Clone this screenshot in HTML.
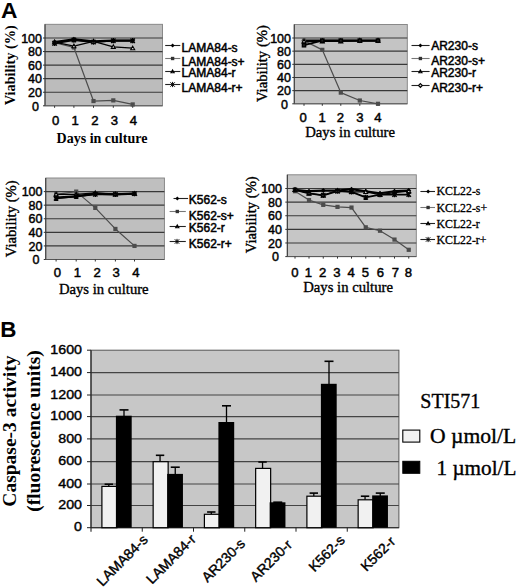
<!DOCTYPE html>
<html><head><meta charset="utf-8"><title>Figure</title>
<style>
html,body{margin:0;padding:0;background:#fff;width:520px;height:588px;overflow:hidden}
svg{display:block}
.sans{font-family:"Liberation Sans",sans-serif}
.sansb{font-family:"Liberation Sans",sans-serif;font-weight:bold}
.serif{font-family:"Liberation Serif",serif}
.serifb{font-family:"Liberation Serif",serif;font-weight:bold}
</style>
</head><body>
<svg width="520" height="588" viewBox="0 0 520 588">
<rect width="520" height="588" fill="#fff"/>
<text class="sansb" transform="translate(0.9 17.6)" font-size="22.8">A</text>
<text class="sansb" transform="translate(0.2 336.9)" font-size="22.4">B</text>
<rect x="45" y="24.3" width="117.5" height="81.5" fill="#bcbcbc" stroke="#808080" stroke-width="0.9"/>
<line x1="45" y1="92.24" x2="162.5" y2="92.24" stroke="#383838" stroke-width="1.2"/>
<line x1="45" y1="78.68" x2="162.5" y2="78.68" stroke="#383838" stroke-width="1.2"/>
<line x1="45" y1="65.12" x2="162.5" y2="65.12" stroke="#383838" stroke-width="1.2"/>
<line x1="45" y1="51.56" x2="162.5" y2="51.56" stroke="#383838" stroke-width="1.2"/>
<line x1="45" y1="38" x2="162.5" y2="38" stroke="#383838" stroke-width="1.2"/>
<line x1="45" y1="24.3" x2="45" y2="105.8" stroke="#333" stroke-width="1"/>
<line x1="45" y1="105.8" x2="162.5" y2="105.8" stroke="#555" stroke-width="1"/>
<line x1="43" y1="105.8" x2="45" y2="105.8" stroke="#333" stroke-width="1"/>
<line x1="43" y1="92.24" x2="45" y2="92.24" stroke="#333" stroke-width="1"/>
<line x1="43" y1="78.68" x2="45" y2="78.68" stroke="#333" stroke-width="1"/>
<line x1="43" y1="65.12" x2="45" y2="65.12" stroke="#333" stroke-width="1"/>
<line x1="43" y1="51.56" x2="45" y2="51.56" stroke="#333" stroke-width="1"/>
<line x1="43" y1="38" x2="45" y2="38" stroke="#333" stroke-width="1"/>
<line x1="54.6" y1="105.8" x2="54.6" y2="107.8" stroke="#333" stroke-width="1"/>
<line x1="73.9" y1="105.8" x2="73.9" y2="107.8" stroke="#333" stroke-width="1"/>
<line x1="93.5" y1="105.8" x2="93.5" y2="107.8" stroke="#333" stroke-width="1"/>
<line x1="113.3" y1="105.8" x2="113.3" y2="107.8" stroke="#333" stroke-width="1"/>
<line x1="132.7" y1="105.8" x2="132.7" y2="107.8" stroke="#333" stroke-width="1"/>
<text class="sans" transform="translate(39 110.5)" font-size="12.5" text-anchor="end" stroke="#000" stroke-width="0.45">0</text>
<text class="sans" transform="translate(42 96.94)" font-size="12.5" text-anchor="end" stroke="#000" stroke-width="0.45">20</text>
<text class="sans" transform="translate(42 83.38)" font-size="12.5" text-anchor="end" stroke="#000" stroke-width="0.45">40</text>
<text class="sans" transform="translate(42 69.82)" font-size="12.5" text-anchor="end" stroke="#000" stroke-width="0.45">60</text>
<text class="sans" transform="translate(42 56.26)" font-size="12.5" text-anchor="end" stroke="#000" stroke-width="0.45">80</text>
<text class="sans" transform="translate(42 42.7)" font-size="12.5" text-anchor="end" stroke="#000" stroke-width="0.45">100</text>
<text class="sans" transform="translate(55.7 124.9) scale(1.05 1)" font-size="12.5" text-anchor="middle" stroke="#000" stroke-width="0.45">0</text>
<text class="sans" transform="translate(75.1 124.9) scale(1.05 1)" font-size="12.5" text-anchor="middle" stroke="#000" stroke-width="0.45">1</text>
<text class="sans" transform="translate(94.9 124.9) scale(1.05 1)" font-size="12.5" text-anchor="middle" stroke="#000" stroke-width="0.45">2</text>
<text class="sans" transform="translate(114.3 124.9) scale(1.05 1)" font-size="12.5" text-anchor="middle" stroke="#000" stroke-width="0.45">3</text>
<text class="sans" transform="translate(133.5 124.9) scale(1.05 1)" font-size="12.5" text-anchor="middle" stroke="#000" stroke-width="0.45">4</text>
<text class="serifb" transform="translate(56.6 143.4)" font-size="14">Days in culture</text>
<text class="serifb" transform="translate(15.3 65.2) rotate(-90)" font-size="14.3" text-anchor="middle">Viability (%)</text>
<path d="M54.6 42.07L73.9 39.36L93.5 41.39L113.3 40.71L132.7 40.71" fill="none" stroke="#000" stroke-width="2.2" stroke-linejoin="round"/>
<path d="M54.6 42.75L73.9 47.49L93.5 101.05L113.3 100.38L132.7 104.44" fill="none" stroke="#4c4c4c" stroke-width="1.2" stroke-linejoin="round"/>
<path d="M54.6 42.07L73.9 46.14L93.5 41.39L113.3 46.81L132.7 48.17" fill="none" stroke="#000" stroke-width="1.2" stroke-linejoin="round"/>
<path d="M54.6 43.42L73.9 40.03L93.5 42.07L113.3 40.71L132.7 40.71" fill="none" stroke="#000" stroke-width="1.8" stroke-linejoin="round"/>
<path d="M54.6 39.57L57.1 42.07L54.6 44.57L52.1 42.07Z" fill="#000"/>
<path d="M73.9 36.86L76.4 39.36L73.9 41.86L71.4 39.36Z" fill="#000"/>
<path d="M93.5 38.89L96 41.39L93.5 43.89L91 41.39Z" fill="#000"/>
<path d="M113.3 38.21L115.8 40.71L113.3 43.21L110.8 40.71Z" fill="#000"/>
<path d="M132.7 38.21L135.2 40.71L132.7 43.21L130.2 40.71Z" fill="#000"/>
<rect x="52.5" y="40.65" width="4.2" height="4.2" fill="#4c4c4c"/>
<rect x="71.8" y="45.39" width="4.2" height="4.2" fill="#4c4c4c"/>
<rect x="91.4" y="98.95" width="4.2" height="4.2" fill="#4c4c4c"/>
<rect x="111.2" y="98.28" width="4.2" height="4.2" fill="#4c4c4c"/>
<rect x="130.6" y="102.34" width="4.2" height="4.2" fill="#4c4c4c"/>
<path d="M54.6 40.07L56.6 43.67L52.6 43.67Z" fill="#d8d8d8" stroke="#000" stroke-width="1.1"/>
<path d="M73.9 44.14L75.9 47.74L71.9 47.74Z" fill="#d8d8d8" stroke="#000" stroke-width="1.1"/>
<path d="M93.5 39.39L95.5 42.99L91.5 42.99Z" fill="#d8d8d8" stroke="#000" stroke-width="1.1"/>
<path d="M113.3 44.81L115.3 48.41L111.3 48.41Z" fill="#d8d8d8" stroke="#000" stroke-width="1.1"/>
<path d="M132.7 46.17L134.7 49.77L130.7 49.77Z" fill="#d8d8d8" stroke="#000" stroke-width="1.1"/>
<path d="M52.4 41.22L56.8 45.62M52.4 45.62L56.8 41.22M54.6 40.78L54.6 46.06" stroke="#000" stroke-width="1.4" fill="none"/>
<path d="M71.7 37.83L76.1 42.23M71.7 42.23L76.1 37.83M73.9 37.39L73.9 42.67" stroke="#000" stroke-width="1.4" fill="none"/>
<path d="M91.3 39.87L95.7 44.27M91.3 44.27L95.7 39.87M93.5 39.43L93.5 44.71" stroke="#000" stroke-width="1.4" fill="none"/>
<path d="M111.1 38.51L115.5 42.91M111.1 42.91L115.5 38.51M113.3 38.07L113.3 43.35" stroke="#000" stroke-width="1.4" fill="none"/>
<path d="M130.5 38.51L134.9 42.91M130.5 42.91L134.9 38.51M132.7 38.07L132.7 43.35" stroke="#000" stroke-width="1.4" fill="none"/>
<line x1="165.2" y1="45.5" x2="180.3" y2="45.5" stroke="#222" stroke-width="1.1"/>
<path d="M172.6 43.5L174.6 45.5L172.6 47.5L170.6 45.5Z" fill="#000"/>
<text class="sans" transform="translate(181.6 52.3)" font-size="12" stroke="#000" stroke-width="0.5">LAMA84-s</text>
<line x1="165.2" y1="58.5" x2="180.3" y2="58.5" stroke="#777" stroke-width="1.1"/>
<rect x="170.92" y="56.82" width="3.36" height="3.36" fill="#333"/>
<text class="sans" transform="translate(181.6 66.1)" font-size="12" stroke="#000" stroke-width="0.5">LAMA84-s+</text>
<line x1="165.2" y1="71.5" x2="180.3" y2="71.5" stroke="#222" stroke-width="1.1"/>
<path d="M172.6 69.9L174.2 72.78L171 72.78Z" fill="#d8d8d8" stroke="#000" stroke-width="1.1"/>
<text class="sans" transform="translate(181.6 77.4)" font-size="12" stroke="#000" stroke-width="0.5">LAMA84-r</text>
<line x1="165.2" y1="84.5" x2="180.3" y2="84.5" stroke="#222" stroke-width="1.1"/>
<path d="M170.42 82.32L174.78 86.68M170.42 86.68L174.78 82.32M172.6 81.89L172.6 87.11" stroke="#000" stroke-width="1.0" fill="none"/>
<text class="sans" transform="translate(181.6 92.1)" font-size="12" stroke="#000" stroke-width="0.5">LAMA84-r+</text>
<rect x="294.25" y="24.5" width="113.05" height="79.3" fill="#c4c4c4" stroke="#808080" stroke-width="0.9"/>
<line x1="294.25" y1="90.64" x2="407.3" y2="90.64" stroke="#383838" stroke-width="1.2"/>
<line x1="294.25" y1="77.48" x2="407.3" y2="77.48" stroke="#383838" stroke-width="1.2"/>
<line x1="294.25" y1="64.32" x2="407.3" y2="64.32" stroke="#383838" stroke-width="1.2"/>
<line x1="294.25" y1="51.16" x2="407.3" y2="51.16" stroke="#383838" stroke-width="1.2"/>
<line x1="294.25" y1="38" x2="407.3" y2="38" stroke="#383838" stroke-width="1.2"/>
<line x1="294.25" y1="24.5" x2="294.25" y2="103.8" stroke="#333" stroke-width="1"/>
<line x1="294.25" y1="103.8" x2="407.3" y2="103.8" stroke="#555" stroke-width="1"/>
<line x1="292.25" y1="103.8" x2="294.25" y2="103.8" stroke="#333" stroke-width="1"/>
<line x1="292.25" y1="90.64" x2="294.25" y2="90.64" stroke="#333" stroke-width="1"/>
<line x1="292.25" y1="77.48" x2="294.25" y2="77.48" stroke="#333" stroke-width="1"/>
<line x1="292.25" y1="64.32" x2="294.25" y2="64.32" stroke="#333" stroke-width="1"/>
<line x1="292.25" y1="51.16" x2="294.25" y2="51.16" stroke="#333" stroke-width="1"/>
<line x1="292.25" y1="38" x2="294.25" y2="38" stroke="#333" stroke-width="1"/>
<line x1="304" y1="103.8" x2="304" y2="105.8" stroke="#333" stroke-width="1"/>
<line x1="322.3" y1="103.8" x2="322.3" y2="105.8" stroke="#333" stroke-width="1"/>
<line x1="340.8" y1="103.8" x2="340.8" y2="105.8" stroke="#333" stroke-width="1"/>
<line x1="359.8" y1="103.8" x2="359.8" y2="105.8" stroke="#333" stroke-width="1"/>
<line x1="378" y1="103.8" x2="378" y2="105.8" stroke="#333" stroke-width="1"/>
<text class="sans" transform="translate(288 108.5)" font-size="12.5" text-anchor="end" stroke="#000" stroke-width="0.45">0</text>
<text class="sans" transform="translate(291 95.34)" font-size="12.5" text-anchor="end" stroke="#000" stroke-width="0.45">20</text>
<text class="sans" transform="translate(291 82.18)" font-size="12.5" text-anchor="end" stroke="#000" stroke-width="0.45">40</text>
<text class="sans" transform="translate(291 69.02)" font-size="12.5" text-anchor="end" stroke="#000" stroke-width="0.45">60</text>
<text class="sans" transform="translate(291 55.86)" font-size="12.5" text-anchor="end" stroke="#000" stroke-width="0.45">80</text>
<text class="sans" transform="translate(291 42.7)" font-size="12.5" text-anchor="end" stroke="#000" stroke-width="0.45">100</text>
<text class="sans" transform="translate(303.1 121.9) scale(1.05 1)" font-size="12.5" text-anchor="middle" stroke="#000" stroke-width="0.45">0</text>
<text class="sans" transform="translate(322.2 121.9) scale(1.05 1)" font-size="12.5" text-anchor="middle" stroke="#000" stroke-width="0.45">1</text>
<text class="sans" transform="translate(340.3 121.9) scale(1.05 1)" font-size="12.5" text-anchor="middle" stroke="#000" stroke-width="0.45">2</text>
<text class="sans" transform="translate(359.8 121.9) scale(1.05 1)" font-size="12.5" text-anchor="middle" stroke="#000" stroke-width="0.45">3</text>
<text class="sans" transform="translate(377.8 121.9) scale(1.05 1)" font-size="12.5" text-anchor="middle" stroke="#000" stroke-width="0.45">4</text>
<text class="serif" transform="translate(305.2 136.7)" font-size="14.7" stroke="#000" stroke-width="0.35">Days in culture</text>
<text class="serif" transform="translate(266.8 63.6) rotate(-90)" font-size="14.7" text-anchor="middle" stroke="#000" stroke-width="0.35">Viability (%)</text>
<path d="M304 40.63L322.3 40.63L340.8 40.63L359.8 40.63L378 40.63" fill="none" stroke="#000" stroke-width="2.2" stroke-linejoin="round"/>
<path d="M304 40.63L322.3 49.84L340.8 92.61L359.8 100.51L378 103.8" fill="none" stroke="#4c4c4c" stroke-width="1.2" stroke-linejoin="round"/>
<path d="M304 41.29L322.3 41.29L340.8 41.29L359.8 40.63L378 40.63" fill="none" stroke="#000" stroke-width="1.2" stroke-linejoin="round"/>
<path d="M304 45.24L322.3 40.63L340.8 40.63L359.8 40.63L378 40.63" fill="none" stroke="#000" stroke-width="1.8" stroke-linejoin="round"/>
<path d="M304 38.13L306.5 40.63L304 43.13L301.5 40.63Z" fill="#000"/>
<path d="M322.3 38.13L324.8 40.63L322.3 43.13L319.8 40.63Z" fill="#000"/>
<path d="M340.8 38.13L343.3 40.63L340.8 43.13L338.3 40.63Z" fill="#000"/>
<path d="M359.8 38.13L362.3 40.63L359.8 43.13L357.3 40.63Z" fill="#000"/>
<path d="M378 38.13L380.5 40.63L378 43.13L375.5 40.63Z" fill="#000"/>
<rect x="301.9" y="38.53" width="4.2" height="4.2" fill="#4c4c4c"/>
<rect x="320.2" y="47.74" width="4.2" height="4.2" fill="#4c4c4c"/>
<rect x="338.7" y="90.51" width="4.2" height="4.2" fill="#4c4c4c"/>
<rect x="357.7" y="98.41" width="4.2" height="4.2" fill="#4c4c4c"/>
<rect x="375.9" y="101.7" width="4.2" height="4.2" fill="#4c4c4c"/>
<path d="M304 39.29L306 42.89L302 42.89Z" fill="#d8d8d8" stroke="#000" stroke-width="1.1"/>
<path d="M322.3 39.29L324.3 42.89L320.3 42.89Z" fill="#d8d8d8" stroke="#000" stroke-width="1.1"/>
<path d="M340.8 39.29L342.8 42.89L338.8 42.89Z" fill="#d8d8d8" stroke="#000" stroke-width="1.1"/>
<path d="M359.8 38.63L361.8 42.23L357.8 42.23Z" fill="#d8d8d8" stroke="#000" stroke-width="1.1"/>
<path d="M378 38.63L380 42.23L376 42.23Z" fill="#d8d8d8" stroke="#000" stroke-width="1.1"/>
<rect x="302.4" y="43.64" width="3.2" height="3.2" fill="#202020" stroke="#000" stroke-width="1.4"/>
<rect x="320.7" y="39.03" width="3.2" height="3.2" fill="#202020" stroke="#000" stroke-width="1.4"/>
<rect x="339.2" y="39.03" width="3.2" height="3.2" fill="#202020" stroke="#000" stroke-width="1.4"/>
<rect x="358.2" y="39.03" width="3.2" height="3.2" fill="#202020" stroke="#000" stroke-width="1.4"/>
<rect x="376.4" y="39.03" width="3.2" height="3.2" fill="#202020" stroke="#000" stroke-width="1.4"/>
<line x1="411.5" y1="45.5" x2="429.6" y2="45.5" stroke="#222" stroke-width="1.1"/>
<path d="M420.4 43.5L422.4 45.5L420.4 47.5L418.4 45.5Z" fill="#000"/>
<text class="sans" transform="translate(431.2 50.4)" font-size="12" stroke="#000" stroke-width="0.5">AR230-s</text>
<line x1="411.5" y1="58.5" x2="429.6" y2="58.5" stroke="#777" stroke-width="1.1"/>
<rect x="418.72" y="56.82" width="3.36" height="3.36" fill="#333"/>
<text class="sans" transform="translate(431.2 65)" font-size="12" stroke="#000" stroke-width="0.5">AR230-s+</text>
<line x1="411.5" y1="71.5" x2="429.6" y2="71.5" stroke="#222" stroke-width="1.1"/>
<path d="M420.4 69.9L422 72.78L418.8 72.78Z" fill="#d8d8d8" stroke="#000" stroke-width="1.1"/>
<text class="sans" transform="translate(431.2 77.3)" font-size="12" stroke="#000" stroke-width="0.5">AR230-r</text>
<line x1="411.5" y1="85.5" x2="429.6" y2="85.5" stroke="#222" stroke-width="1.1"/>
<path d="M420.4 83.58L422.32 85.5L420.4 87.42L418.48 85.5Z" fill="#d8d8d8" stroke="#000" stroke-width="1.1"/>
<text class="sans" transform="translate(431.2 91.9)" font-size="12" stroke="#000" stroke-width="0.5">AR230-r+</text>
<rect x="45.75" y="178" width="118.65" height="81.5" fill="#bfbfbf" stroke="#808080" stroke-width="0.9"/>
<line x1="45.75" y1="245.92" x2="164.4" y2="245.92" stroke="#383838" stroke-width="1.2"/>
<line x1="45.75" y1="232.34" x2="164.4" y2="232.34" stroke="#383838" stroke-width="1.2"/>
<line x1="45.75" y1="218.76" x2="164.4" y2="218.76" stroke="#383838" stroke-width="1.2"/>
<line x1="45.75" y1="205.18" x2="164.4" y2="205.18" stroke="#383838" stroke-width="1.2"/>
<line x1="45.75" y1="191.6" x2="164.4" y2="191.6" stroke="#383838" stroke-width="1.2"/>
<line x1="45.75" y1="178" x2="45.75" y2="259.5" stroke="#333" stroke-width="1"/>
<line x1="45.75" y1="259.5" x2="164.4" y2="259.5" stroke="#555" stroke-width="1"/>
<line x1="43.75" y1="259.5" x2="45.75" y2="259.5" stroke="#333" stroke-width="1"/>
<line x1="43.75" y1="245.92" x2="45.75" y2="245.92" stroke="#333" stroke-width="1"/>
<line x1="43.75" y1="232.34" x2="45.75" y2="232.34" stroke="#333" stroke-width="1"/>
<line x1="43.75" y1="218.76" x2="45.75" y2="218.76" stroke="#333" stroke-width="1"/>
<line x1="43.75" y1="205.18" x2="45.75" y2="205.18" stroke="#333" stroke-width="1"/>
<line x1="43.75" y1="191.6" x2="45.75" y2="191.6" stroke="#333" stroke-width="1"/>
<line x1="56.1" y1="259.5" x2="56.1" y2="261.5" stroke="#333" stroke-width="1"/>
<line x1="76.2" y1="259.5" x2="76.2" y2="261.5" stroke="#333" stroke-width="1"/>
<line x1="95.3" y1="259.5" x2="95.3" y2="261.5" stroke="#333" stroke-width="1"/>
<line x1="115.4" y1="259.5" x2="115.4" y2="261.5" stroke="#333" stroke-width="1"/>
<line x1="134.5" y1="259.5" x2="134.5" y2="261.5" stroke="#333" stroke-width="1"/>
<text class="sans" transform="translate(39.5 264.2)" font-size="12.5" text-anchor="end" stroke="#000" stroke-width="0.45">0</text>
<text class="sans" transform="translate(42.5 250.62)" font-size="12.5" text-anchor="end" stroke="#000" stroke-width="0.45">20</text>
<text class="sans" transform="translate(42.5 237.04)" font-size="12.5" text-anchor="end" stroke="#000" stroke-width="0.45">40</text>
<text class="sans" transform="translate(42.5 223.46)" font-size="12.5" text-anchor="end" stroke="#000" stroke-width="0.45">60</text>
<text class="sans" transform="translate(42.5 209.88)" font-size="12.5" text-anchor="end" stroke="#000" stroke-width="0.45">80</text>
<text class="sans" transform="translate(42.5 196.3)" font-size="12.5" text-anchor="end" stroke="#000" stroke-width="0.45">100</text>
<text class="sans" transform="translate(57.3 276.9) scale(1.05 1)" font-size="12.5" text-anchor="middle" stroke="#000" stroke-width="0.45">0</text>
<text class="sans" transform="translate(77.4 276.9) scale(1.05 1)" font-size="12.5" text-anchor="middle" stroke="#000" stroke-width="0.45">1</text>
<text class="sans" transform="translate(97.2 276.9) scale(1.05 1)" font-size="12.5" text-anchor="middle" stroke="#000" stroke-width="0.45">2</text>
<text class="sans" transform="translate(116.2 276.9) scale(1.05 1)" font-size="12.5" text-anchor="middle" stroke="#000" stroke-width="0.45">3</text>
<text class="sans" transform="translate(135.8 276.9) scale(1.05 1)" font-size="12.5" text-anchor="middle" stroke="#000" stroke-width="0.45">4</text>
<text class="serif" transform="translate(58.9 293.8)" font-size="14.7" stroke="#000" stroke-width="0.35">Days in culture</text>
<text class="serif" transform="translate(16.1 218.8) rotate(-90)" font-size="14.7" text-anchor="middle" stroke="#000" stroke-width="0.35">Viability (%)</text>
<path d="M56.1 197.71L76.2 196.35L95.3 193.64L115.4 194.32L134.5 193.64" fill="none" stroke="#000" stroke-width="2.2" stroke-linejoin="round"/>
<path d="M56.1 194.32L76.2 191.6L95.3 207.9L115.4 228.94L134.5 245.92" fill="none" stroke="#4c4c4c" stroke-width="1.2" stroke-linejoin="round"/>
<path d="M56.1 194.32L76.2 194.32L95.3 192.96L115.4 194.32L134.5 193.64" fill="none" stroke="#000" stroke-width="1.2" stroke-linejoin="round"/>
<path d="M56.1 198.39L76.2 196.35L95.3 194.32L115.4 194.32L134.5 193.64" fill="none" stroke="#000" stroke-width="1.8" stroke-linejoin="round"/>
<path d="M56.1 195.21L58.6 197.71L56.1 200.21L53.6 197.71Z" fill="#000"/>
<path d="M76.2 193.85L78.7 196.35L76.2 198.85L73.7 196.35Z" fill="#000"/>
<path d="M95.3 191.14L97.8 193.64L95.3 196.14L92.8 193.64Z" fill="#000"/>
<path d="M115.4 191.82L117.9 194.32L115.4 196.82L112.9 194.32Z" fill="#000"/>
<path d="M134.5 191.14L137 193.64L134.5 196.14L132 193.64Z" fill="#000"/>
<rect x="54" y="192.22" width="4.2" height="4.2" fill="#4c4c4c"/>
<rect x="74.1" y="189.5" width="4.2" height="4.2" fill="#4c4c4c"/>
<rect x="93.2" y="205.8" width="4.2" height="4.2" fill="#4c4c4c"/>
<rect x="113.3" y="226.84" width="4.2" height="4.2" fill="#4c4c4c"/>
<rect x="132.4" y="243.82" width="4.2" height="4.2" fill="#4c4c4c"/>
<path d="M56.1 192.32L58.1 195.92L54.1 195.92Z" fill="#d8d8d8" stroke="#000" stroke-width="1.1"/>
<path d="M76.2 192.32L78.2 195.92L74.2 195.92Z" fill="#d8d8d8" stroke="#000" stroke-width="1.1"/>
<path d="M95.3 190.96L97.3 194.56L93.3 194.56Z" fill="#d8d8d8" stroke="#000" stroke-width="1.1"/>
<path d="M115.4 192.32L117.4 195.92L113.4 195.92Z" fill="#d8d8d8" stroke="#000" stroke-width="1.1"/>
<path d="M134.5 191.64L136.5 195.24L132.5 195.24Z" fill="#d8d8d8" stroke="#000" stroke-width="1.1"/>
<path d="M53.9 196.19L58.3 200.59M53.9 200.59L58.3 196.19M56.1 195.75L56.1 201.03" stroke="#000" stroke-width="1.4" fill="none"/>
<path d="M74 194.15L78.4 198.55M74 198.55L78.4 194.15M76.2 193.71L76.2 198.99" stroke="#000" stroke-width="1.4" fill="none"/>
<path d="M93.1 192.12L97.5 196.52M93.1 196.52L97.5 192.12M95.3 191.68L95.3 196.96" stroke="#000" stroke-width="1.4" fill="none"/>
<path d="M113.2 192.12L117.6 196.52M113.2 196.52L117.6 192.12M115.4 191.68L115.4 196.96" stroke="#000" stroke-width="1.4" fill="none"/>
<path d="M132.3 191.44L136.7 195.84M132.3 195.84L136.7 191.44M134.5 191L134.5 196.28" stroke="#000" stroke-width="1.4" fill="none"/>
<line x1="173.5" y1="198.5" x2="188.1" y2="198.5" stroke="#222" stroke-width="1.1"/>
<path d="M177.3 196.5L179.3 198.5L177.3 200.5L175.3 198.5Z" fill="#000"/>
<text class="sans" transform="translate(188.8 203.7)" font-size="12" stroke="#000" stroke-width="0.5">K562-s</text>
<line x1="169.6" y1="211.5" x2="185.8" y2="211.5" stroke="#777" stroke-width="1.1"/>
<rect x="175.62" y="209.82" width="3.36" height="3.36" fill="#333"/>
<text class="sans" transform="translate(188.8 219.5)" font-size="12" stroke="#000" stroke-width="0.5">K562-s+</text>
<line x1="169.6" y1="226.5" x2="185.8" y2="226.5" stroke="#222" stroke-width="1.1"/>
<path d="M177.3 224.9L178.9 227.78L175.7 227.78Z" fill="#d8d8d8" stroke="#000" stroke-width="1.1"/>
<text class="sans" transform="translate(188.8 231.8)" font-size="12" stroke="#000" stroke-width="0.5">K562-r</text>
<line x1="169.6" y1="241.5" x2="185.8" y2="241.5" stroke="#222" stroke-width="1.1"/>
<path d="M174.82 239.32L179.18 243.68M174.82 243.68L179.18 239.32M177 238.89L177 244.11" stroke="#000" stroke-width="1.0" fill="none"/>
<text class="sans" transform="translate(188.8 248)" font-size="12" stroke="#000" stroke-width="0.5">K562-r+</text>
<rect x="287.3" y="174.8" width="129" height="81.8" fill="#c6c6c6" stroke="#808080" stroke-width="0.9"/>
<line x1="287.3" y1="242.98" x2="416.3" y2="242.98" stroke="#383838" stroke-width="1.2"/>
<line x1="287.3" y1="229.36" x2="416.3" y2="229.36" stroke="#383838" stroke-width="1.2"/>
<line x1="287.3" y1="215.74" x2="416.3" y2="215.74" stroke="#383838" stroke-width="1.2"/>
<line x1="287.3" y1="202.12" x2="416.3" y2="202.12" stroke="#383838" stroke-width="1.2"/>
<line x1="287.3" y1="188.5" x2="416.3" y2="188.5" stroke="#383838" stroke-width="1.2"/>
<line x1="287.3" y1="174.8" x2="287.3" y2="256.6" stroke="#333" stroke-width="1"/>
<line x1="287.3" y1="256.6" x2="416.3" y2="256.6" stroke="#555" stroke-width="1"/>
<line x1="285.3" y1="256.6" x2="287.3" y2="256.6" stroke="#333" stroke-width="1"/>
<line x1="285.3" y1="242.98" x2="287.3" y2="242.98" stroke="#333" stroke-width="1"/>
<line x1="285.3" y1="229.36" x2="287.3" y2="229.36" stroke="#333" stroke-width="1"/>
<line x1="285.3" y1="215.74" x2="287.3" y2="215.74" stroke="#333" stroke-width="1"/>
<line x1="285.3" y1="202.12" x2="287.3" y2="202.12" stroke="#333" stroke-width="1"/>
<line x1="285.3" y1="188.5" x2="287.3" y2="188.5" stroke="#333" stroke-width="1"/>
<line x1="295" y1="256.6" x2="295" y2="258.6" stroke="#333" stroke-width="1"/>
<line x1="309" y1="256.6" x2="309" y2="258.6" stroke="#333" stroke-width="1"/>
<line x1="323.25" y1="256.6" x2="323.25" y2="258.6" stroke="#333" stroke-width="1"/>
<line x1="337.5" y1="256.6" x2="337.5" y2="258.6" stroke="#333" stroke-width="1"/>
<line x1="351.5" y1="256.6" x2="351.5" y2="258.6" stroke="#333" stroke-width="1"/>
<line x1="365.75" y1="256.6" x2="365.75" y2="258.6" stroke="#333" stroke-width="1"/>
<line x1="380" y1="256.6" x2="380" y2="258.6" stroke="#333" stroke-width="1"/>
<line x1="394.5" y1="256.6" x2="394.5" y2="258.6" stroke="#333" stroke-width="1"/>
<line x1="408.75" y1="256.6" x2="408.75" y2="258.6" stroke="#333" stroke-width="1"/>
<text class="sans" transform="translate(279 261.3)" font-size="12.5" text-anchor="end" stroke="#000" stroke-width="0.45">0</text>
<text class="sans" transform="translate(282 247.68)" font-size="12.5" text-anchor="end" stroke="#000" stroke-width="0.45">20</text>
<text class="sans" transform="translate(282 234.06)" font-size="12.5" text-anchor="end" stroke="#000" stroke-width="0.45">40</text>
<text class="sans" transform="translate(282 220.44)" font-size="12.5" text-anchor="end" stroke="#000" stroke-width="0.45">60</text>
<text class="sans" transform="translate(282 206.82)" font-size="12.5" text-anchor="end" stroke="#000" stroke-width="0.45">80</text>
<text class="sans" transform="translate(282 193.2)" font-size="12.5" text-anchor="end" stroke="#000" stroke-width="0.45">100</text>
<text class="sans" transform="translate(294.9 277.1) scale(1.05 1)" font-size="12.5" text-anchor="middle" stroke="#000" stroke-width="0.45">0</text>
<text class="sans" transform="translate(308.4 277.1) scale(1.05 1)" font-size="12.5" text-anchor="middle" stroke="#000" stroke-width="0.45">1</text>
<text class="sans" transform="translate(322.6 277.1) scale(1.05 1)" font-size="12.5" text-anchor="middle" stroke="#000" stroke-width="0.45">2</text>
<text class="sans" transform="translate(336.9 277.1) scale(1.05 1)" font-size="12.5" text-anchor="middle" stroke="#000" stroke-width="0.45">3</text>
<text class="sans" transform="translate(351.2 277.1) scale(1.05 1)" font-size="12.5" text-anchor="middle" stroke="#000" stroke-width="0.45">4</text>
<text class="sans" transform="translate(365.5 277.1) scale(1.05 1)" font-size="12.5" text-anchor="middle" stroke="#000" stroke-width="0.45">5</text>
<text class="sans" transform="translate(380.5 277.1) scale(1.05 1)" font-size="12.5" text-anchor="middle" stroke="#000" stroke-width="0.45">6</text>
<text class="sans" transform="translate(395.3 277.1) scale(1.05 1)" font-size="12.5" text-anchor="middle" stroke="#000" stroke-width="0.45">7</text>
<text class="sans" transform="translate(408.3 277.1) scale(1.05 1)" font-size="12.5" text-anchor="middle" stroke="#000" stroke-width="0.45">8</text>
<text class="serif" transform="translate(303.2 292.2)" font-size="14.7" stroke="#000" stroke-width="0.35">Days in culture</text>
<text class="serif" transform="translate(255.6 214.75) rotate(-90)" font-size="14.7" text-anchor="middle" stroke="#000" stroke-width="0.35">Viability (%)</text>
<path d="M295 189.86L309 191.22L323.25 190.54L337.5 190.54L351.5 189.18L365.75 191.22L380 193.27L394.5 191.22L408.75 190.54" fill="none" stroke="#000" stroke-width="2.2" stroke-linejoin="round"/>
<path d="M295 191.22L309 200.08L323.25 204.84L337.5 206.89L351.5 207.57L365.75 227.32L380 230.72L394.5 239.58L408.75 249.79" fill="none" stroke="#4c4c4c" stroke-width="1.2" stroke-linejoin="round"/>
<path d="M295 189.86L309 193.27L323.25 195.31L337.5 190.54L351.5 191.91L365.75 191.91L380 194.63L394.5 192.59L408.75 191.22" fill="none" stroke="#000" stroke-width="1.2" stroke-linejoin="round"/>
<path d="M295 189.86L309 193.27L323.25 195.31L337.5 191.22L351.5 191.91L365.75 197.35L380 194.63L394.5 194.63L408.75 194.63" fill="none" stroke="#000" stroke-width="1.8" stroke-linejoin="round"/>
<path d="M295 187.36L297.5 189.86L295 192.36L292.5 189.86Z" fill="#000"/>
<path d="M309 188.72L311.5 191.22L309 193.72L306.5 191.22Z" fill="#000"/>
<path d="M323.25 188.04L325.75 190.54L323.25 193.04L320.75 190.54Z" fill="#000"/>
<path d="M337.5 188.04L340 190.54L337.5 193.04L335 190.54Z" fill="#000"/>
<path d="M351.5 186.68L354 189.18L351.5 191.68L349 189.18Z" fill="#000"/>
<path d="M365.75 188.72L368.25 191.22L365.75 193.72L363.25 191.22Z" fill="#000"/>
<path d="M380 190.77L382.5 193.27L380 195.77L377.5 193.27Z" fill="#000"/>
<path d="M394.5 188.72L397 191.22L394.5 193.72L392 191.22Z" fill="#000"/>
<path d="M408.75 188.04L411.25 190.54L408.75 193.04L406.25 190.54Z" fill="#000"/>
<rect x="292.9" y="189.12" width="4.2" height="4.2" fill="#4c4c4c"/>
<rect x="306.9" y="197.98" width="4.2" height="4.2" fill="#4c4c4c"/>
<rect x="321.15" y="202.74" width="4.2" height="4.2" fill="#4c4c4c"/>
<rect x="335.4" y="204.79" width="4.2" height="4.2" fill="#4c4c4c"/>
<rect x="349.4" y="205.47" width="4.2" height="4.2" fill="#4c4c4c"/>
<rect x="363.65" y="225.22" width="4.2" height="4.2" fill="#4c4c4c"/>
<rect x="377.9" y="228.62" width="4.2" height="4.2" fill="#4c4c4c"/>
<rect x="392.4" y="237.48" width="4.2" height="4.2" fill="#4c4c4c"/>
<rect x="406.65" y="247.69" width="4.2" height="4.2" fill="#4c4c4c"/>
<path d="M295 187.86L297 191.46L293 191.46Z" fill="#d8d8d8" stroke="#000" stroke-width="1.1"/>
<path d="M309 191.27L311 194.87L307 194.87Z" fill="#d8d8d8" stroke="#000" stroke-width="1.1"/>
<path d="M323.25 193.31L325.25 196.91L321.25 196.91Z" fill="#d8d8d8" stroke="#000" stroke-width="1.1"/>
<path d="M337.5 188.54L339.5 192.14L335.5 192.14Z" fill="#d8d8d8" stroke="#000" stroke-width="1.1"/>
<path d="M351.5 189.91L353.5 193.51L349.5 193.51Z" fill="#d8d8d8" stroke="#000" stroke-width="1.1"/>
<path d="M365.75 189.91L367.75 193.51L363.75 193.51Z" fill="#d8d8d8" stroke="#000" stroke-width="1.1"/>
<path d="M380 192.63L382 196.23L378 196.23Z" fill="#d8d8d8" stroke="#000" stroke-width="1.1"/>
<path d="M394.5 190.59L396.5 194.19L392.5 194.19Z" fill="#d8d8d8" stroke="#000" stroke-width="1.1"/>
<path d="M408.75 189.22L410.75 192.82L406.75 192.82Z" fill="#d8d8d8" stroke="#000" stroke-width="1.1"/>
<path d="M292.8 187.66L297.2 192.06M292.8 192.06L297.2 187.66M295 187.22L295 192.5" stroke="#000" stroke-width="1.4" fill="none"/>
<path d="M306.8 191.07L311.2 195.47M306.8 195.47L311.2 191.07M309 190.63L309 195.91" stroke="#000" stroke-width="1.4" fill="none"/>
<path d="M321.05 193.11L325.45 197.51M321.05 197.51L325.45 193.11M323.25 192.67L323.25 197.95" stroke="#000" stroke-width="1.4" fill="none"/>
<path d="M335.3 189.02L339.7 193.42M335.3 193.42L339.7 189.02M337.5 188.58L337.5 193.86" stroke="#000" stroke-width="1.4" fill="none"/>
<path d="M349.3 189.71L353.7 194.11M349.3 194.11L353.7 189.71M351.5 189.27L351.5 194.55" stroke="#000" stroke-width="1.4" fill="none"/>
<path d="M363.55 195.15L367.95 199.55M363.55 199.55L367.95 195.15M365.75 194.71L365.75 199.99" stroke="#000" stroke-width="1.4" fill="none"/>
<path d="M377.8 192.43L382.2 196.83M377.8 196.83L382.2 192.43M380 191.99L380 197.27" stroke="#000" stroke-width="1.4" fill="none"/>
<path d="M392.3 192.43L396.7 196.83M392.3 196.83L396.7 192.43M394.5 191.99L394.5 197.27" stroke="#000" stroke-width="1.4" fill="none"/>
<path d="M406.55 192.43L410.95 196.83M406.55 196.83L410.95 192.43M408.75 191.99L408.75 197.27" stroke="#000" stroke-width="1.4" fill="none"/>
<line x1="420.4" y1="191.5" x2="435" y2="191.5" stroke="#222" stroke-width="1.1"/>
<path d="M428.1 189.5L430.1 191.5L428.1 193.5L426.1 191.5Z" fill="#000"/>
<text class="serif" transform="translate(436.5 195.3)" font-size="11.8" stroke="#000" stroke-width="0.3">KCL22-s</text>
<line x1="420.4" y1="207.5" x2="435" y2="207.5" stroke="#777" stroke-width="1.1"/>
<rect x="426.42" y="205.82" width="3.36" height="3.36" fill="#333"/>
<text class="serif" transform="translate(436.5 211.5)" font-size="11.8" stroke="#000" stroke-width="0.3">KCL22-s+</text>
<line x1="420.4" y1="223.5" x2="435" y2="223.5" stroke="#222" stroke-width="1.1"/>
<path d="M428.1 221.9L429.7 224.78L426.5 224.78Z" fill="#d8d8d8" stroke="#000" stroke-width="1.1"/>
<text class="serif" transform="translate(436.5 227.6)" font-size="11.8" stroke="#000" stroke-width="0.3">KCL22-r</text>
<line x1="420.4" y1="239.5" x2="435" y2="239.5" stroke="#222" stroke-width="1.1"/>
<path d="M425.92 237.32L430.28 241.68M425.92 241.68L430.28 237.32M428.1 236.89L428.1 242.11" stroke="#000" stroke-width="1.0" fill="none"/>
<text class="serif" transform="translate(436.5 243.8)" font-size="11.8" stroke="#000" stroke-width="0.3">KCL22-r+</text>
<rect x="91" y="350.2" width="307.9" height="177.5" fill="#c7c7c7" stroke="#555" stroke-width="1"/>
<line x1="91" y1="505.5" x2="398.9" y2="505.5" stroke="#444444" stroke-width="1.2"/>
<line x1="91" y1="484" x2="398.9" y2="484" stroke="#444444" stroke-width="1.2"/>
<line x1="91" y1="461.7" x2="398.9" y2="461.7" stroke="#444444" stroke-width="1.2"/>
<line x1="91" y1="438.9" x2="398.9" y2="438.9" stroke="#444444" stroke-width="1.2"/>
<line x1="91" y1="416.6" x2="398.9" y2="416.6" stroke="#444444" stroke-width="1.2"/>
<line x1="91" y1="395" x2="398.9" y2="395" stroke="#444444" stroke-width="1.2"/>
<line x1="91" y1="372.6" x2="398.9" y2="372.6" stroke="#444444" stroke-width="1.2"/>
<line x1="91" y1="350.2" x2="91" y2="531.7" stroke="#222" stroke-width="1.1"/>
<line x1="91" y1="527.7" x2="398.9" y2="527.7" stroke="#222" stroke-width="1.1"/>
<line x1="87" y1="527.7" x2="91" y2="527.7" stroke="#222" stroke-width="1"/>
<text class="sans" transform="translate(82 531.3) scale(1.14 1)" font-size="12.5" text-anchor="end" stroke="#000" stroke-width="0.4">0</text>
<line x1="87" y1="505.5" x2="91" y2="505.5" stroke="#222" stroke-width="1"/>
<text class="sans" transform="translate(82 509.1) scale(1.14 1)" font-size="12.5" text-anchor="end" stroke="#000" stroke-width="0.4">200</text>
<line x1="87" y1="484" x2="91" y2="484" stroke="#222" stroke-width="1"/>
<text class="sans" transform="translate(82 487.6) scale(1.14 1)" font-size="12.5" text-anchor="end" stroke="#000" stroke-width="0.4">400</text>
<line x1="87" y1="461.7" x2="91" y2="461.7" stroke="#222" stroke-width="1"/>
<text class="sans" transform="translate(82 465.3) scale(1.14 1)" font-size="12.5" text-anchor="end" stroke="#000" stroke-width="0.4">600</text>
<line x1="87" y1="438.9" x2="91" y2="438.9" stroke="#222" stroke-width="1"/>
<text class="sans" transform="translate(82 442.5) scale(1.14 1)" font-size="12.5" text-anchor="end" stroke="#000" stroke-width="0.4">800</text>
<line x1="87" y1="416.6" x2="91" y2="416.6" stroke="#222" stroke-width="1"/>
<text class="sans" transform="translate(82 420.2) scale(1.14 1)" font-size="12.5" text-anchor="end" stroke="#000" stroke-width="0.4">1000</text>
<line x1="87" y1="395" x2="91" y2="395" stroke="#222" stroke-width="1"/>
<text class="sans" transform="translate(82 398.6) scale(1.14 1)" font-size="12.5" text-anchor="end" stroke="#000" stroke-width="0.4">1200</text>
<line x1="87" y1="372.6" x2="91" y2="372.6" stroke="#222" stroke-width="1"/>
<text class="sans" transform="translate(82 376.2) scale(1.14 1)" font-size="12.5" text-anchor="end" stroke="#000" stroke-width="0.4">1400</text>
<line x1="87" y1="350.2" x2="91" y2="350.2" stroke="#222" stroke-width="1"/>
<text class="sans" transform="translate(82 353.8) scale(1.14 1)" font-size="12.5" text-anchor="end" stroke="#000" stroke-width="0.4">1600</text>
<line x1="108.8" y1="486.4" x2="108.8" y2="484.2" stroke="#000" stroke-width="1.3"/>
<line x1="104.6" y1="484.2" x2="113" y2="484.2" stroke="#000" stroke-width="1.6"/>
<rect x="101.9" y="486.4" width="15" height="41.3" fill="#f1f1f1" stroke="#000" stroke-width="1.2"/>
<line x1="124" y1="416.2" x2="124" y2="409.9" stroke="#000" stroke-width="1.3"/>
<line x1="119.5" y1="409.9" x2="128.5" y2="409.9" stroke="#000" stroke-width="1.6"/>
<rect x="115.9" y="415.7" width="15.8" height="112" fill="#000"/>
<text class="sans" transform="translate(102.38 586.88) rotate(-45)" font-size="14" stroke="#000" stroke-width="0.4">LAMA84-s</text>
<line x1="142.25" y1="527.7" x2="142.25" y2="531.7" stroke="#222" stroke-width="1"/>
<line x1="160.05" y1="461.7" x2="160.05" y2="455.3" stroke="#000" stroke-width="1.3"/>
<line x1="155.85" y1="455.3" x2="164.25" y2="455.3" stroke="#000" stroke-width="1.6"/>
<rect x="153.15" y="461.7" width="15" height="66" fill="#f1f1f1" stroke="#000" stroke-width="1.2"/>
<line x1="175.25" y1="474.4" x2="175.25" y2="467.2" stroke="#000" stroke-width="1.3"/>
<line x1="170.75" y1="467.2" x2="179.75" y2="467.2" stroke="#000" stroke-width="1.6"/>
<rect x="167.15" y="473.9" width="15.8" height="53.8" fill="#000"/>
<text class="sans" transform="translate(152.12 584.75) rotate(-45)" font-size="14" stroke="#000" stroke-width="0.4">LAMA84-r</text>
<line x1="193.5" y1="527.7" x2="193.5" y2="531.7" stroke="#222" stroke-width="1"/>
<line x1="211.3" y1="514.3" x2="211.3" y2="512" stroke="#000" stroke-width="1.3"/>
<line x1="207.1" y1="512" x2="215.5" y2="512" stroke="#000" stroke-width="1.6"/>
<rect x="204.4" y="514.3" width="15" height="13.4" fill="#f1f1f1" stroke="#000" stroke-width="1.2"/>
<line x1="226.5" y1="422.5" x2="226.5" y2="405.8" stroke="#000" stroke-width="1.3"/>
<line x1="222" y1="405.8" x2="231" y2="405.8" stroke="#000" stroke-width="1.6"/>
<rect x="218.4" y="422" width="15.8" height="105.7" fill="#000"/>
<text class="sans" transform="translate(207.55 583.08) rotate(-45)" font-size="14" stroke="#000" stroke-width="0.4">AR230-s</text>
<line x1="244.75" y1="527.7" x2="244.75" y2="531.7" stroke="#222" stroke-width="1"/>
<line x1="262.55" y1="468.4" x2="262.55" y2="462" stroke="#000" stroke-width="1.3"/>
<line x1="258.35" y1="462" x2="266.75" y2="462" stroke="#000" stroke-width="1.6"/>
<rect x="255.65" y="468.4" width="15" height="59.3" fill="#f1f1f1" stroke="#000" stroke-width="1.2"/>
<line x1="273.25" y1="502.2" x2="282.25" y2="502.2" stroke="#000" stroke-width="1.6"/>
<rect x="269.65" y="502.3" width="15.8" height="25.4" fill="#000"/>
<text class="sans" transform="translate(256.08 582.45) rotate(-45)" font-size="14" stroke="#000" stroke-width="0.4">AR230-r</text>
<line x1="296" y1="527.7" x2="296" y2="531.7" stroke="#222" stroke-width="1"/>
<line x1="313.8" y1="496.2" x2="313.8" y2="493.1" stroke="#000" stroke-width="1.3"/>
<line x1="309.6" y1="493.1" x2="318" y2="493.1" stroke="#000" stroke-width="1.6"/>
<rect x="306.9" y="496.2" width="15" height="31.5" fill="#f1f1f1" stroke="#000" stroke-width="1.2"/>
<line x1="329" y1="384.3" x2="329" y2="361.3" stroke="#000" stroke-width="1.3"/>
<line x1="324.5" y1="361.3" x2="333.5" y2="361.3" stroke="#000" stroke-width="1.6"/>
<rect x="320.9" y="383.8" width="15.8" height="143.9" fill="#000"/>
<text class="sans" transform="translate(314.45 572.5) rotate(-45)" font-size="14" stroke="#000" stroke-width="0.4">K562-s</text>
<line x1="347.25" y1="527.7" x2="347.25" y2="531.7" stroke="#222" stroke-width="1"/>
<line x1="365.05" y1="499.8" x2="365.05" y2="496.2" stroke="#000" stroke-width="1.3"/>
<line x1="360.85" y1="496.2" x2="369.25" y2="496.2" stroke="#000" stroke-width="1.6"/>
<rect x="358.15" y="499.8" width="15" height="27.9" fill="#f1f1f1" stroke="#000" stroke-width="1.2"/>
<line x1="380.25" y1="495.9" x2="380.25" y2="493.1" stroke="#000" stroke-width="1.3"/>
<line x1="375.75" y1="493.1" x2="384.75" y2="493.1" stroke="#000" stroke-width="1.6"/>
<rect x="372.15" y="495.4" width="15.8" height="32.3" fill="#000"/>
<text class="sans" transform="translate(366.5 572.08) rotate(-45)" font-size="14" stroke="#000" stroke-width="0.4">K562-r</text>
<text class="serifb" transform="translate(16.2 431.1) rotate(-90)" font-size="19.5" text-anchor="middle">Caspase-3 activity</text>
<text class="serifb" transform="translate(40 431) rotate(-90)" font-size="19.5" text-anchor="middle">(fluorescence units)</text>
<text class="serif" transform="translate(420.3 407.7)" font-size="20" stroke="#000" stroke-width="0.35">STI571</text>
<rect x="402.8" y="430.1" width="17" height="12" fill="#f1f1f1" stroke="#000" stroke-width="1.1"/>
<text class="serif" transform="translate(430 442.8) scale(1.08 1)" font-size="20" stroke="#000" stroke-width="0.35">O &#181;mol/L</text>
<rect x="402.8" y="461.3" width="17" height="12" fill="#000" stroke="#000" stroke-width="1"/>
<text class="serif" transform="translate(436.5 475) scale(1.06 1)" font-size="20" stroke="#000" stroke-width="0.35">1 &#181;mol/L</text>
</svg>
</body></html>
